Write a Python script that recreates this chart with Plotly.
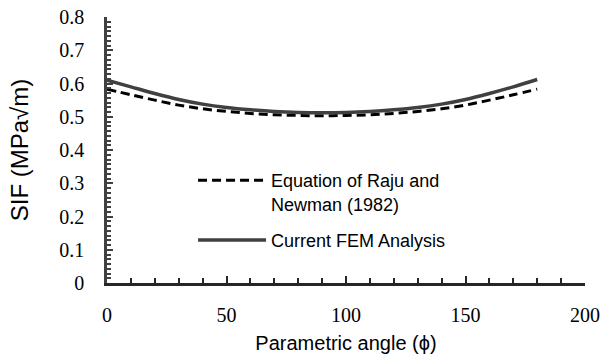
import plotly.graph_objects as go

# Parametric angle (degrees) and stress intensity factor values (MPa·√m)
angle = [0, 10, 20, 30, 40, 50, 60, 70, 80, 90, 100, 110, 120, 130, 140, 150, 160, 170, 180]
sif_raju_newman = [0.583, 0.566, 0.550, 0.535, 0.524, 0.516, 0.510, 0.506, 0.504, 0.503,
                   0.504, 0.506, 0.510, 0.516, 0.524, 0.535, 0.550, 0.566, 0.583]
sif_fem = [0.610, 0.590, 0.570, 0.552, 0.538, 0.528, 0.521, 0.516, 0.513, 0.512,
           0.513, 0.516, 0.521, 0.528, 0.538, 0.552, 0.570, 0.590, 0.612]

x_ticks = [0, 50, 100, 150, 200]
y_ticks = [0, 0.1, 0.2, 0.3, 0.4, 0.5, 0.6, 0.7, 0.8]

fig = go.Figure()
fig.add_trace(go.Scatter(
    x=angle, y=sif_raju_newman, mode="lines", line_shape="spline",
    name="Equation of Raju and<br>Newman (1982)", legendgroup="raju",
    line=dict(color="black", width=3, dash="9px,5px"),
))
fig.add_trace(go.Scatter(
    x=angle, y=sif_fem, mode="lines", line_shape="spline",
    name="Current FEM Analysis", legendgroup="fem",
    line=dict(color="#404040", width=3.5),
))

serif = "'Liberation Serif', Tinos, 'DejaVu Serif', serif"
sans = "Arial, 'Liberation Sans', sans-serif"
axis_color = "#404040"

fig.update_xaxes(
    range=[0, 200], tickvals=x_ticks, showgrid=False, zeroline=False, automargin=False,
    showline=True, linecolor="#262626", linewidth=2.5,
    ticks="inside", ticklen=7, tickwidth=2, tickcolor="#262626",
    minor=dict(ticks="inside", dtick=10, ticklen=5, tickwidth=2, tickcolor="#262626", showgrid=False),
    tickfont=dict(family=serif, size=20, color="black"),
    ticklabelstandoff=12,
    title=dict(text="Parametric angle (ϕ)", font=dict(family=sans, size=20, color="black"), standoff=12),
)
fig.update_yaxes(
    range=[0, 0.8], tickvals=y_ticks, ticktext=[f"{v:g}" for v in y_ticks],
    showgrid=False, zeroline=False, automargin=False,
    showline=True, linecolor=axis_color, linewidth=2.5,
    ticks="inside", ticklen=6, tickwidth=2, tickcolor=axis_color,
    minor=dict(ticks="inside", dtick=0.1 / 7, ticklen=4, tickwidth=2, tickcolor=axis_color, showgrid=False),
    tickfont=dict(family=serif, size=20, color="black"),
    ticklabelstandoff=16,
    title=dict(text="SIF (MPa√m)", font=dict(family=sans, size=24, color="black"), standoff=24),
)

fig.update_layout(
    width=607, height=360, autosize=False,
    margin=dict(l=107, r=22, t=17, b=77),
    paper_bgcolor="white", plot_bgcolor="white",
    showlegend=True,
    legend=dict(
        x=0.18, y=0.455, xanchor="left", yanchor="top",
        bgcolor="rgba(0,0,0,0)", itemwidth=68, valign="top",
        tracegroupgap=10,
        font=dict(family=sans, size=18, color="black"),
    ),
)

fig.write_html("out.html")
